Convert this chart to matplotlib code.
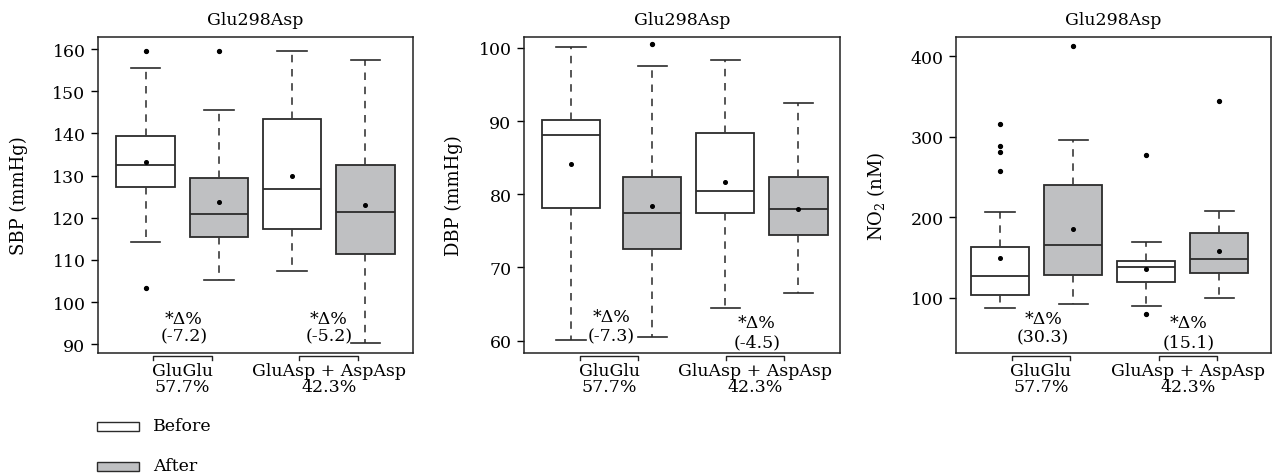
import matplotlib
matplotlib.use("Agg")
import matplotlib.pyplot as plt
from matplotlib.patches import Rectangle
from matplotlib.lines import Line2D
import matplotlib.transforms as mtransforms

# ---------------- data ----------------
groups = ["GluGlu", "GluAsp + AspAsp"]
group_pct = ["57.7%", "42.3%"]
title = "Glu298Asp"
legend_labels = ["Before", "After"]

# SBP (mmHg): GluGlu before, GluGlu after, GluAsp+AspAsp before, after
sbp_q1 = [127.3, 115.4, 117.4, 111.3]
sbp_med = [132.5, 120.8, 126.8, 121.4]
sbp_q3 = [139.4, 129.4, 143.5, 132.5]
sbp_whislo = [114.3, 105.3, 107.3, 90.2]
sbp_whishi = [155.5, 145.5, 159.6, 157.5]
sbp_mean = [133.3, 123.7, 129.9, 123.1]
sbp_fliers = [[159.6, 103.3], [159.6], [], []]
sbp_delta = ["(-7.2)", "(-5.2)"]
sbp_ticks = [90, 100, 110, 120, 130, 140, 150, 160]

# DBP (mmHg)
dbp_q1 = [78.1, 72.5, 77.5, 74.5]
dbp_med = [88.1, 77.5, 80.5, 78.0]
dbp_q3 = [90.1, 82.4, 88.4, 82.4]
dbp_whislo = [60.1, 60.5, 64.5, 66.5]
dbp_whishi = [100.1, 97.5, 98.4, 92.5]
dbp_mean = [84.1, 78.4, 81.7, 78.0]
dbp_fliers = [[], [100.5], [], []]
dbp_delta = ["(-7.3)", "(-4.5)"]
dbp_ticks = [60, 70, 80, 90, 100]

# NO2 (nM)
no2_q1 = [103.7, 128.6, 120.3, 130.6]
no2_med = [126.9, 165.9, 138.5, 148.0]
no2_q3 = [163.0, 239.6, 146.0, 180.4]
no2_whislo = [87.1, 92.5, 89.6, 100.4]
no2_whishi = [207.3, 296.0, 170.0, 208.5]
no2_mean = [149.7, 185.3, 136.4, 158.0]
no2_fliers = [[315.5, 288.5, 281.0, 257.9], [412.4], [277.7, 79.7], [344.5]]
no2_delta = ["(30.3)", "(15.1)"]
no2_ticks = [100, 200, 300, 400]

# ---------------- style ----------------
plt.rcParams["font.family"] = ["DejaVu Serif"]
plt.rcParams["font.size"] = 12.5
plt.rcParams["mathtext.fontset"] = "dejavuserif"

GRAY = "#BFC0C2"
EDGE = "#2b2b2b"
WHISK = "#3a3a3a"

W, H = 1276, 477
fig = plt.figure(figsize=(W / 100, H / 100), dpi=100)


def make_stats(q1, med, q3, lo, hi, mean, fl):
    return [dict(q1=a, med=b, q3=c, whislo=d, whishi=e, mean=f, fliers=g)
            for a, b, c, d, e, f, g in zip(q1, med, q3, lo, hi, mean, fl)]


panels = [
    dict(left=98, right=413, stats=make_stats(sbp_q1, sbp_med, sbp_q3, sbp_whislo, sbp_whishi, sbp_mean, sbp_fliers),
         ylim=(87.9, 162.9), ticks=sbp_ticks, ylabel="SBP (mmHg)", lab_off=70,
         pos=[1, 2, 3, 4], xlim=(0.349, 4.651), delta=sbp_delta,
         dx=[0.02, 0.0], dy=[(0.108, 0.054), (0.108, 0.054)], bx=[1.5, 3.5]),
    dict(left=524, right=840, stats=make_stats(dbp_q1, dbp_med, dbp_q3, dbp_whislo, dbp_whishi, dbp_mean, dbp_fliers),
         ylim=(58.3, 101.5), ticks=dbp_ticks, ylabel="DBP (mmHg)", lab_off=61,
         pos=[0.89, 2, 3, 4], xlim=(0.247, 4.57), delta=dbp_delta,
         dx=[0.0, -0.07], dy=[(0.114, 0.054), (0.098, 0.035)], bx=[1.41, 3.41]),
    dict(left=956, right=1271, stats=make_stats(no2_q1, no2_med, no2_q3, no2_whislo, no2_whishi, no2_mean, no2_fliers),
         ylim=(31.6, 424), ticks=no2_ticks, ylabel="NO$_2$ (nM)", lab_off=69,
         pos=[1, 2, 3, 4], xlim=(0.397, 4.708), delta=no2_delta,
         dx=[0.09, 0.075], dy=[(0.108, 0.051), (0.098, 0.035)], bx=[1.56, 3.57]),
]

top_px, bot_px = 38, 354
for p in panels:
    ax = fig.add_axes([p["left"] / W, 1 - bot_px / H, (p["right"] - p["left"]) / W, (bot_px - top_px) / H])
    bp = ax.bxp(p["stats"], positions=p["pos"], widths=0.80, showmeans=True, patch_artist=True,
                boxprops=dict(edgecolor=EDGE, linewidth=1.3),
                medianprops=dict(color=EDGE, linewidth=1.3),
                whiskerprops=dict(color=WHISK, linewidth=1.2, linestyle=(0, (4.5, 4))),
                capprops=dict(color=EDGE, linewidth=1.2),
                meanprops=dict(marker="o", markerfacecolor="black", markeredgecolor="black", markersize=2.6),
                flierprops=dict(marker="o", markerfacecolor="black", markeredgecolor="black", markersize=2.8))
    for i, box in enumerate(bp["boxes"]):
        box.set_facecolor("white" if i % 2 == 0 else GRAY)
    ax.set_xlim(*p["xlim"])
    ax.set_ylim(*p["ylim"])
    ax.set_yticks(p["ticks"])
    ax.set_xticks([])
    ax.tick_params(axis="y", direction="out", length=5, width=1, pad=4, labelsize=12.5)
    for s in ax.spines.values():
        s.set_linewidth(1.1)
        s.set_color("#222222")
    ax.set_title(title, fontsize=12.5, pad=9)
    ax.set_ylabel(p["ylabel"], fontsize=13)
    ax.yaxis.set_label_coords(-p["lab_off"] / (p["right"] - p["left"]), 0.5)

    trans = mtransforms.blended_transform_factory(ax.transData, ax.transAxes)
    for k in range(2):
        mid = (p["pos"][2 * k] + p["pos"][2 * k + 1]) / 2 + p["dx"][k]
        ax.text(mid, p["dy"][k][0], "*Δ%", transform=trans, ha="center", va="center", fontsize=12.5)
        ax.text(mid, p["dy"][k][1], p["delta"][k], transform=trans, ha="center", va="center", fontsize=12.5)
        bxc = p["bx"][k]
        half = 0.40
        ax.add_line(Line2D([bxc - half, bxc - half, bxc + half, bxc + half], [-0.022, -0.0095, -0.0095, -0.022],
                           transform=trans, color="#222222", linewidth=1.0, clip_on=False))
        ax.text(bxc, -0.054, groups[k], transform=trans, ha="center", va="center", fontsize=12.5)
        ax.text(bxc, -0.106, group_pct[k], transform=trans, ha="center", va="center", fontsize=12.5)

# legend
for j, (lab, col) in enumerate(zip(legend_labels, ["white", GRAY])):
    cy = 427 + 40 * j
    fig.add_artist(Rectangle((97 / W, 1 - (cy + 4.5) / H), 42 / W, 9 / H, transform=fig.transFigure,
                             facecolor=col, edgecolor=EDGE, linewidth=1.0))
    fig.text(153 / W, 1 - cy / H, lab, ha="left", va="center", fontsize=12.5)

fig.savefig("out.png", dpi=100)
